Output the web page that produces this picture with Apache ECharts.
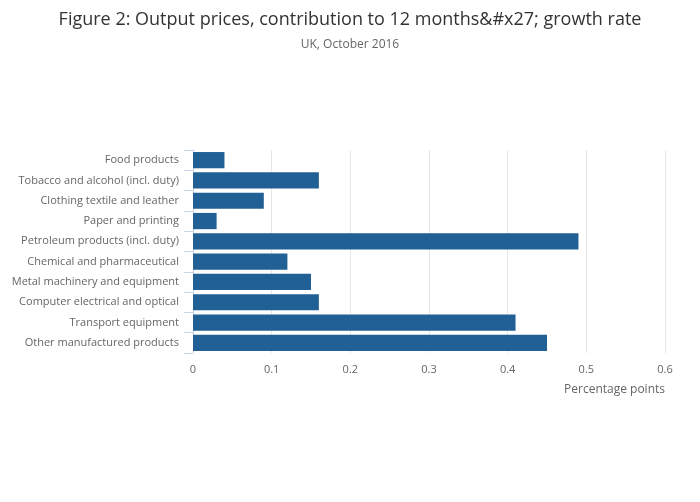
<!DOCTYPE html>
<html>
<head>
<meta charset="utf-8">
<script src="https://cdn.jsdelivr.net/npm/echarts@6/dist/echarts.min.js"></script>
<style>html,body{margin:0;padding:0;background:#fff;}#chart{width:700px;height:502px;}</style>
</head>
<body>
<div id="chart"></div>
<script>
const categories = [
  "Food products",
  "Tobacco and alcohol (incl. duty)",
  "Clothing textile and leather",
  "Paper and printing",
  "Petroleum products (incl. duty)",
  "Chemical and pharmaceutical",
  "Metal machinery and equipment",
  "Computer electrical and optical",
  "Transport equipment",
  "Other manufactured products"
];
const values = [0.04, 0.16, 0.09, 0.03, 0.49, 0.12, 0.15, 0.16, 0.41, 0.45];
const titleText = "Figure 2: Output prices, contribution to 12 months&#x27; growth rate";
const subtitleText = "UK, October 2016";
const xAxisName = "Percentage points";

const chart = echarts.init(document.getElementById('chart'), null, {renderer: 'canvas'});
chart.setOption({
  animation: false,
  textStyle: {fontFamily: 'Open Sans'},
  title: {
    text: titleText,
    subtext: subtitleText,
    left: 'center',
    top: 6,
    itemGap: 10,
    textStyle: {fontFamily: 'Open Sans', fontSize: 18, fontWeight: 'normal', color: '#333333'},
    subtextStyle: {fontFamily: 'Open Sans', fontSize: 12, color: '#666666'}
  },
  grid: {left: 193, right: 35, top: 150, bottom: 149, containLabel: false},
  xAxis: {
    type: 'value',
    min: 0,
    max: 0.6,
    interval: 0.1,
    axisLine: {show: false},
    axisTick: {show: false},
    splitLine: {show: true, lineStyle: {color: '#e6e6e6', width: 1}},
    axisLabel: {color: '#666666', fontSize: 11, margin: 11, fontFamily: 'Open Sans'},
    name: xAxisName,
    nameLocation: 'end',
    nameGap: 0,
    nameTextStyle: {color: '#666666', fontSize: 12, align: 'right', verticalAlign: 'top', padding: [31, 0, 0, 0], fontFamily: 'Open Sans'}
  },
  yAxis: {
    type: 'category',
    data: categories,
    inverse: true,
    axisLine: {show: true, lineStyle: {color: '#ccd6eb', width: 1}},
    axisTick: {show: true, length: 9, lineStyle: {color: '#ccd6eb'}},
    axisLabel: {color: '#666666', fontSize: 11, margin: 14, fontFamily: 'Open Sans'},
    splitLine: {show: false}
  },
  series: [{
    type: 'bar',
    data: values,
    barCategoryGap: '20%',
    itemStyle: {color: '#206095'}
  }]
});
</script>
</body>
</html>
